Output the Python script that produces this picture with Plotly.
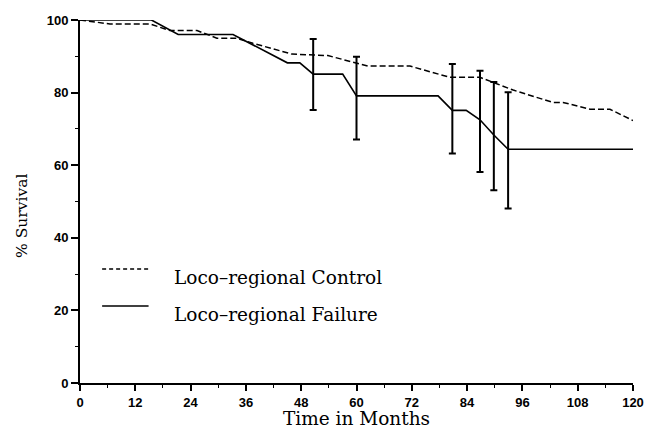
import plotly.graph_objects as go

# Data
fail_t = [0, 15.5, 21.3, 33.2, 45, 47.7, 50.6, 57, 60, 77.7, 80.8, 83.8, 86.8, 89.8, 92.9, 120]
fail_s = [100, 100, 96, 96, 88.2, 88.2, 85.1, 85.1, 79.1, 79.1, 75.1, 75.1, 72.5, 68.3, 64.4, 64.4]

ctrl_t = [0, 6.5, 15.2, 19.5, 25.4, 29.7, 34, 37.5, 46, 53.8, 62.5, 71.6, 80.3, 86.8, 94, 102.6, 104.8, 110.7, 115, 120]
ctrl_s = [100, 98.9, 98.9, 97.1, 97.1, 95, 95, 93.6, 90.6, 90.2, 87.3, 87.3, 84.2, 84.2, 80.7, 77.3, 77.3, 75.4, 75.4, 72.3]

err_t = [50.6, 60, 80.8, 86.8, 89.8, 92.9]
err_s = [85.1, 79.1, 75.1, 72.5, 68.3, 64.4]
err_hi = [94.8, 89.9, 87.9, 86.0, 82.9, 80.1]
err_lo = [75.2, 67.1, 63.2, 58.1, 53.1, 48.1]

legend_labels = ["Loco\u2013regional Control", "Loco\u2013regional Failure"]
legend_dash = ["4px,3px", "solid"]

x_ticks = list(range(0, 121, 12))
y_ticks = list(range(0, 101, 20))

SERIF = "DejaVu Serif"
TICKFONT = dict(family="Liberation Sans", size=13, color="black", weight="bold")

fig = go.Figure()
fig.add_trace(go.Scatter(x=ctrl_t, y=ctrl_s, mode="lines",
                         line=dict(color="black", width=1.5, dash="6px,3px"),
                         cliponaxis=False, showlegend=False))
fig.add_trace(go.Scatter(x=fail_t, y=fail_s, mode="lines",
                         line=dict(color="black", width=1.6),
                         cliponaxis=False, showlegend=False))
fig.add_trace(go.Scatter(
    x=err_t, y=err_s, mode="markers", marker=dict(size=0.1, color="black"),
    error_y=dict(type="data", symmetric=False,
                 array=[h - s for h, s in zip(err_hi, err_s)],
                 arrayminus=[s - l for s, l in zip(err_s, err_lo)],
                 color="black", thickness=2, width=3.5),
    showlegend=False, hoverinfo="skip"))

# Legend drawn as line samples + text inside the plot
leg_line_y = [0.314, 0.212]
leg_text_y = [0.290, 0.190]
for lab, dash, ly, ty in zip(legend_labels, legend_dash, leg_line_y, leg_text_y):
    fig.add_shape(type="line", xref="paper", yref="paper", x0=0.040, x1=0.124, y0=ly, y1=ly,
                  line=dict(color="black", width=1.3 if dash != "solid" else 1.6, dash=dash))
    fig.add_annotation(xref="paper", yref="paper", x=0.1664, y=ty, text=lab, showarrow=False,
                       xanchor="left", yanchor="middle",
                       font=dict(family=SERIF, size=18.5, color="black"))

# y-axis title placed as in the reference (slightly below the axis centre)
fig.add_annotation(xref="paper", yref="paper", x=-0.105, y=(383 - 216) / 363, text="% Survival",
                   textangle=-90, showarrow=False, xanchor="center", yanchor="middle",
                   font=dict(family=SERIF, size=15.5, color="black"))

fig.update_layout(
    width=656, height=429,
    margin=dict(l=80, r=23, t=20, b=46, autoexpand=False),
    paper_bgcolor="white", plot_bgcolor="white",
    showlegend=False,
    xaxis=dict(range=[0, 120], tickvals=x_ticks, ticks="outside", ticklen=6, tickwidth=1.5,
               tickcolor="black", showline=True, linecolor="black", linewidth=1.8,
               showgrid=False, zeroline=False, tickfont=TICKFONT, automargin=False,
               minor=dict(dtick=6, tick0=0, ticks="outside", ticklen=3, tickwidth=1.3, tickcolor="black"),
               title=dict(text="Time in Months", font=dict(family=SERIF, size=18.5, color="black"), standoff=2)),
    yaxis=dict(range=[0, 100], tickvals=y_ticks, ticks="outside", ticklen=7, tickwidth=1.5,
               tickcolor="black", showline=True, linecolor="black", linewidth=1.8,
               showgrid=False, zeroline=False, tickfont=TICKFONT, automargin=False,
               minor=dict(dtick=10, tick0=0, ticks="outside", ticklen=3, tickwidth=1.3, tickcolor="black")),
)

fig.write_html("out.html")
